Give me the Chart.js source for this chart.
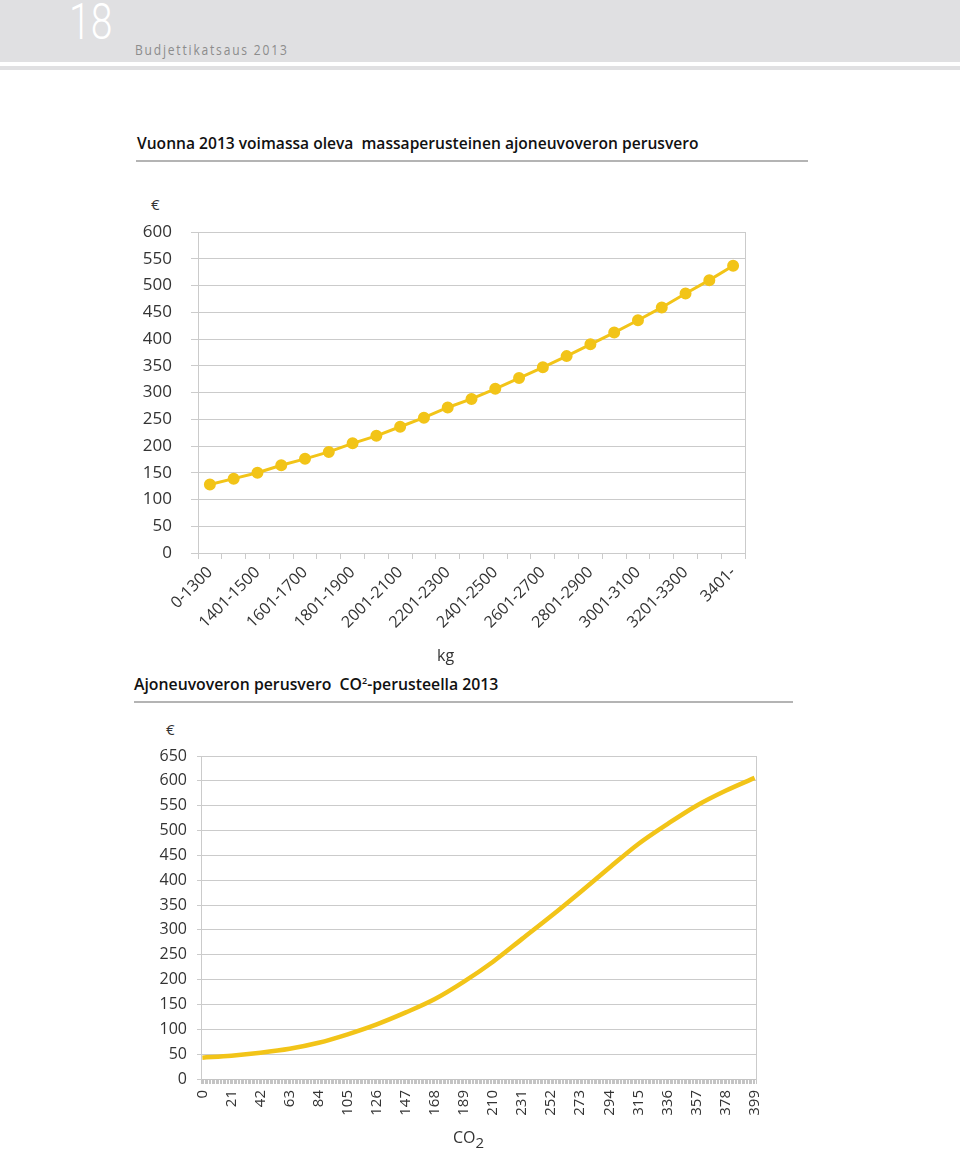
<!DOCTYPE html>
<html>
<head>
<meta charset="utf-8">
<script src="https://cdn.jsdelivr.net/npm/chart.js@4/dist/chart.umd.min.js"></script>
<style>
    body { margin: 0; background: #fff; font-family: "Open Sans", sans-serif; color: #222; }
    .page { position: relative; width: 960px; height: 1151px; overflow: hidden; }
    .band { position: absolute; left: 0; top: 0; width: 960px; height: 62px; background: #e0e0e2; }
    .band-thin { position: absolute; left: 0; top: 66px; width: 960px; height: 4px; background: #e0e0e2; }
    .page-no { position: absolute; left: 69px; top: -7px; font-family: Roboto, sans-serif; font-weight: 300; font-size: 50px; color: #fff; transform: scaleX(0.78); transform-origin: left top; }
    .running { position: absolute; left: 135px; top: 40px; font-size: 14px; color: #8c8c8c; letter-spacing: 2.1px; transform: scaleX(0.86); transform-origin: left top; }
    .title { position: absolute; font-weight: 600; font-size: 15.6px; color: #111; white-space: nowrap; }
    .rule { position: absolute; height: 2px; background: #b4b4b4; }
    .unit { position: absolute; font-size: 15px; color: #333; }
    .chart { position: absolute; }
</style>
</head>
<body>
<div class="page">
    <div class="band"></div>
    <div class="band-thin"></div>
    <div class="page-no">18</div>
    <div class="running">Budjettikatsaus 2013</div>

    <div class="title" style="left:137px; top:132px;">Vuonna 2013 voimassa oleva&nbsp; massaperusteinen ajoneuvoveron perusvero</div>
    <div class="rule" style="left:136px; top:160px; width:672px;"></div>
    <div class="unit" style="left:151px; top:194px;">€</div>
    <div class="chart" style="left:130px; top:220px; width:640px; height:440px;"><canvas id="massChart"></canvas></div>
    <div class="unit" style="left:437px; top:644px; font-size:16px;">kg</div>

    <div class="title" style="left:134px; top:673px; font-size:15.8px;">Ajoneuvoveron perusvero&nbsp; CO<sup style="font-size:9px;">2</sup>-perusteella 2013</div>
    <div class="rule" style="left:134px; top:701px; width:659px;"></div>
    <div class="unit" style="left:166px; top:719px;">€</div>
    <div class="chart" style="left:140px; top:740px; width:640px; height:411px;"><canvas id="co2Chart"></canvas></div>
    <div class="unit" style="left:453px; top:1126px; font-size:16px;">CO<sub style="font-size:15px; vertical-align:-5px;">2</sub></div>
</div>

<script>
const massLabels = ['0-1300', '1301-1400', '1401-1500', '1501-1600', '1601-1700', '1701-1800',
    '1801-1900', '1901-2000', '2001-2100', '2101-2200', '2201-2300', '2301-2400', '2401-2500',
    '2501-2600', '2601-2700', '2701-2800', '2801-2900', '2901-3000', '3001-3100', '3101-3200',
    '3201-3300', '3301-3400', '3401-'];
const massTax = [128, 139, 150, 164, 176, 189, 205, 219, 236, 253, 272, 288, 307, 327, 347,
    368, 390, 412, 435, 459, 485, 510, 537];

const co2Grams = [0, 21, 42, 63, 84, 105, 126, 147, 168, 189, 210, 231, 252, 273, 294, 315,
    336, 357, 378, 399];
const co2Tax = [43, 47, 53, 61, 73, 90, 110, 134, 161, 196, 236, 282, 328, 376, 425, 473,
    513, 550, 580, 606];

const yellow = '#f2c418';
const gridColor = '#cbcbcb';

// y axis with a fixed width; label padding should not push the plot down
function fixedWidth(w) {
    return s => {
        s.width = w;
        s.paddingTop = 0;
        s.paddingBottom = 0;
    };
}

// right edge line of the plot, drawn as an empty axis
const rightEdge = {
    position: 'right',
    ticks: { display: false },
    grid: { drawOnChartArea: false, drawTicks: false },
    border: { display: true, color: gridColor },
    afterFit: s => { s.width = 0; }
};

new Chart(document.getElementById('massChart'), {
    type: 'line',
    data: {
        labels: massLabels,
        datasets: [{
            data: massTax,
            borderColor: yellow,
            backgroundColor: yellow,
            borderWidth: 3,
            pointRadius: 4.5,
            pointHoverRadius: 4.5,
            tension: 0
        }]
    },
    options: {
        responsive: true,
        maintainAspectRatio: false,
        animation: false,
        layout: { padding: { left: 0, right: 25, top: 12, bottom: 0 } },
        plugins: { legend: { display: false }, tooltip: { enabled: false } },
        scales: {
            x: {
                offset: true,
                grid: { offset: true, drawOnChartArea: false, tickLength: 6, color: gridColor },
                border: { color: gridColor },
                ticks: {
                    autoSkip: false,
                    minRotation: 45,
                    maxRotation: 45,
                    padding: 4,
                    color: '#333',
                    font: { family: 'Open Sans', size: 16 },
                    callback: (v, i) => i % 2 === 0 ? massLabels[i] : ''
                },
                afterFit: s => { s.height = 107; }
            },
            y: {
                min: 0,
                max: 600,
                ticks: { stepSize: 50, padding: 19, color: '#333', font: { family: 'Open Sans', size: 17 } },
                grid: { color: gridColor, tickLength: 7 },
                border: { color: gridColor },
                afterFit: fixedWidth(68)
            },
            y2: rightEdge
        }
    }
});

new Chart(document.getElementById('co2Chart'), {
    type: 'line',
    data: {
        datasets: [{
            data: co2Grams.map((g, i) => ({ x: g, y: co2Tax[i] })),
            borderColor: yellow,
            borderWidth: 4.5,
            pointRadius: 0,
            cubicInterpolationMode: 'monotone'
        }]
    },
    options: {
        responsive: true,
        maintainAspectRatio: false,
        animation: false,
        layout: { padding: { left: 0, right: 18, top: 16, bottom: 0 } },
        plugins: { legend: { display: false }, tooltip: { enabled: false } },
        scales: {
            x: {
                type: 'linear',
                min: -1,
                max: 400,
                grid: { drawOnChartArea: false, tickLength: 5, color: '#c4c4c4' },
                border: { color: '#c4c4c4' },
                ticks: {
                    stepSize: 1,
                    autoSkip: false,
                    minRotation: 90,
                    maxRotation: 90,
                    padding: 6,
                    color: '#333',
                    font: { family: 'Open Sans', size: 15 },
                    callback: v => (v >= 0 && v % 21 === 0) ? String(v) : ''
                },
                afterFit: s => { s.height = 72; }
            },
            y: {
                min: 0,
                max: 650,
                ticks: { stepSize: 50, padding: 10, color: '#333', font: { family: 'Open Sans', size: 16 } },
                grid: { color: gridColor, tickLength: 4 },
                border: { color: gridColor },
                afterFit: fixedWidth(61)
            },
            y2: rightEdge
        }
    }
});
</script>
</body>
</html>
